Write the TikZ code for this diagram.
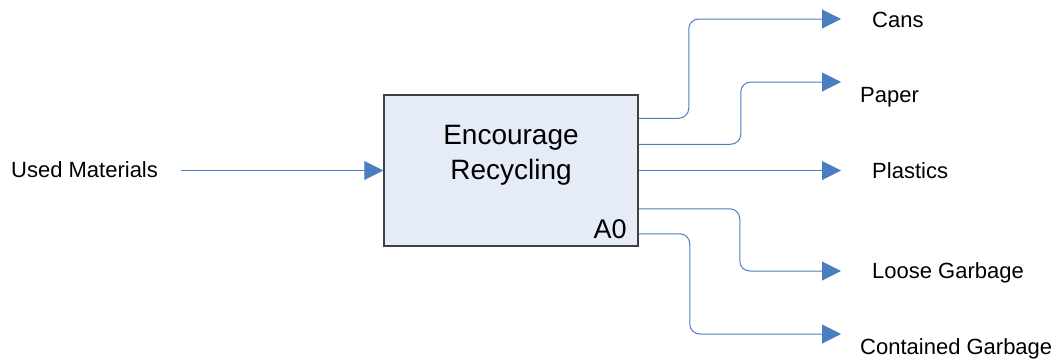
\documentclass[tikz,border=0pt]{standalone}
\usepackage{fontspec}
\setmainfont{Liberation Sans}
\usetikzlibrary{arrows.meta, positioning}
\definecolor{idefBlue}{RGB}{74, 126, 193}
\definecolor{idefFill}{RGB}{230, 236, 247}
\definecolor{idefEdge}{RGB}{64, 64, 64}
\tikzset{
    process/.style={draw=idefEdge, fill=idefFill, line width=1.5pt, minimum width=254pt, minimum height=151pt, inner sep=0pt},
    flow/.style={draw=idefBlue, line width=1pt, rounded corners=10pt, -{Triangle[length=19pt, width=19pt]}},
    item/.style={anchor=base west, inner sep=0pt, font=\fontsize{22}{26}\selectfont}
}

\begin{document}
\begin{tikzpicture}[x=1pt, y=-1pt]
    \useasboundingbox (0,0) rectangle (1059,360);

    % Activity box with its title and number
    \node[process] (proc) at (511,170.5) {};
    \node[align=center, inner sep=0pt, font=\fontsize{28}{35}\selectfont] (title) at (511,155.5) {Encourage\\Recycling};
    \node[anchor=base east, inner sep=0pt, font=\fontsize{27}{32}\selectfont] (code) at ([xshift=-12pt, yshift=8pt]proc.south east) {A0};

    % Input
    \node[item] (used) at (11,177) {Used Materials};
    \draw[flow] ([xshift=23pt]used.east |- proc.west) -- (proc.west);

    % Arrow ends for the outputs
    \coordinate (cansTip) at (841,19);
    \coordinate (paperTip) at (841,82);
    \coordinate (plasticsTip) at (841,170.5);
    \coordinate (looseTip) at (841,271);
    \coordinate (containedTip) at (841,334);

    % Output labels
    \node[item] (cans) at (872,27) {Cans};
    \node[item] (paper) at (860,102) {Paper};
    \node[item] (plastics) at (872,178) {Plastics};
    \node[item] (loose) at (872,278) {Loose Garbage};
    \node[item] (contained) at (860,354) {Contained Garbage};

    % Outputs
    \draw[flow] ([yshift=-24pt]proc.north east) -- ++(50,0) |- (cansTip);
    \draw[flow] ([yshift=-50pt]proc.north east) -- ++(102,0) |- (paperTip);
    \draw[flow] (proc.east) -- (plasticsTip);
    \draw[flow] ([yshift=38pt]proc.south east) -- ++(101,0) |- (looseTip);
    \draw[flow] ([yshift=13pt]proc.south east) -- ++(51,0) |- (containedTip);
\end{tikzpicture}
\end{document}
